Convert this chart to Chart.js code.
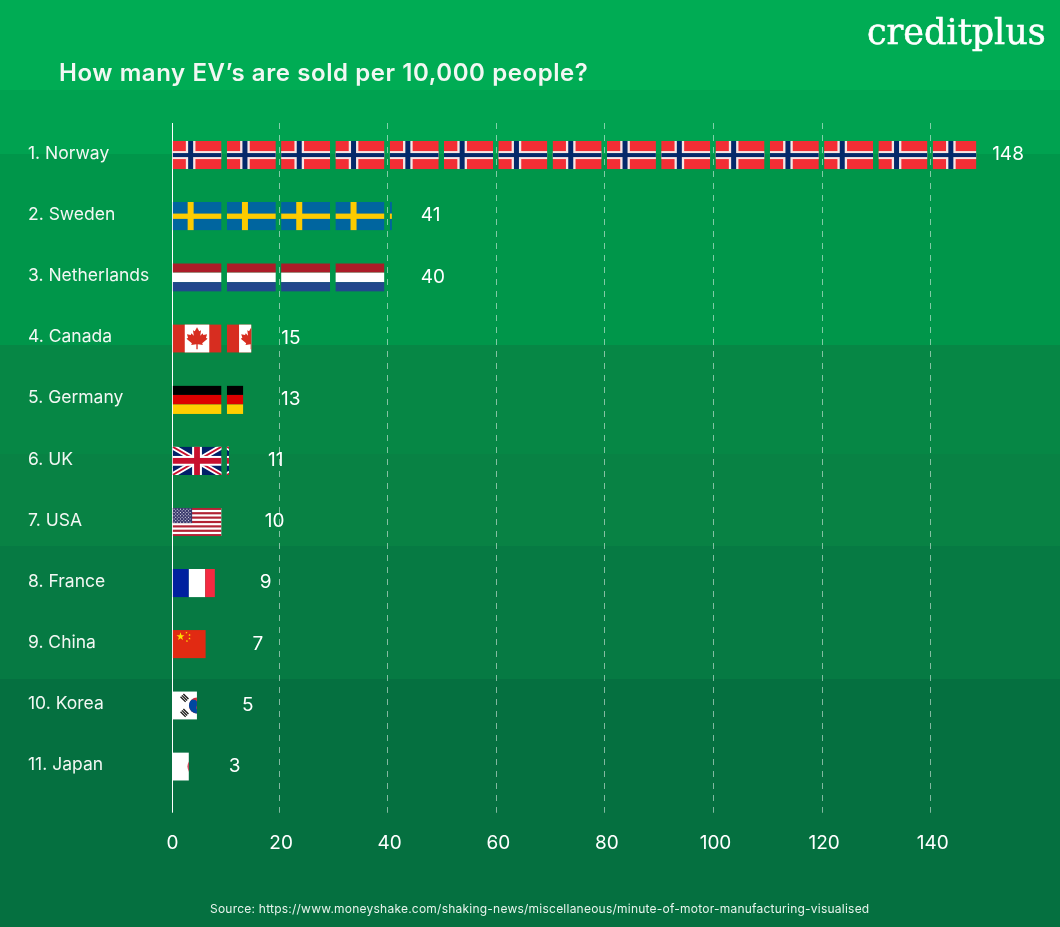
<!DOCTYPE html>
<html>
<head>
<meta charset="utf-8">
<title>EVs sold per 10,000 people</title>
<script src="https://cdn.jsdelivr.net/npm/chart.js@4"></script>
<style>
  html, body { margin: 0; padding: 0; }
  body {
    width: 1060px; height: 927px; position: relative; overflow: hidden;
    background: linear-gradient(to bottom,
      #00ac54 0, #00ac54 90px,
      #00a250 90px, #00a250 154px,
      #00964a 154px, #00964a 345px,
      #068745 345px, #068745 454px,
      #088244 454px, #088244 546px,
      #067a43 546px, #067a43 679px,
      #057040 679px, #057040 927px);
    color: #fff;
  }
  canvas { position: absolute; left: 0; top: 0; }
  .logo, .title, .source { position: absolute; white-space: nowrap; }
  .logo { left: 867px; top: 12px; font: 400 35px "DejaVu Serif", serif; -webkit-text-stroke: 0.5px #fff; }
  .title { left: 59px; top: 58px; font: 600 24px/30px Inter, sans-serif; letter-spacing: 0.58px; color: #f2f7f3; }
  .source { left: 210px; top: 901px; font: 400 12px/15px Inter, sans-serif; letter-spacing: 0.23px; color: #e8f3ec; }
</style>
</head>
<body>
<canvas id="chart" width="1060" height="927"></canvas>
<div class="logo">creditplus</div>
<div class="title">How many EV’s are sold per 10,000 people?</div>
<div class="source">Source: https://www.moneyshake.com/shaking-news/miscellaneous/minute-of-motor-manufacturing-visualised</div>

<script>
"use strict";

const countries = ["1. Norway", "2. Sweden", "3. Netherlands", "4. Canada", "5. Germany", "6. UK",
  "7. USA", "8. France", "9. China", "10. Korea", "11. Japan"];
// printed next to each bar
const soldPer10k = [148, 41, 40, 15, 13, 11, 10, 9, 7, 5, 3];
// length of the flag strip as drawn in the picture, same unit (differs a little from the printed number)
const stripLengths = [148, 40.4, 40, 14.5, 13, 10.4, 10, 7.8, 6.1, 4.5, 3];
const flagNames = ["norway", "sweden", "netherlands", "canada", "germany", "uk",
  "usa", "france", "china", "korea", "japan"];
const axisTicks = [0, 20, 40, 60, 80, 100, 120, 140];

// ─── Layout constants ─────────────────────────────────────────────────────

const FLAG_UNITS = 10;       // one flag stands for 10 units
const FLAG_FILL = 0.903;     // rest of the tile is the gap between flags
const FLAG_DROP = 1.5;       // flags sit slightly under the row centre
const GRID_SHIFT = -2.5;     // dashed lines sit left of their tick labels
const AXIS_OVERRUN = 17;     // axis and grid run on below the last row
const LABEL_GAP = [16, 29, 31, 30, 38, 39, 38, 45, 47, 45, 40];
const LABEL_FONT = '400 19px Inter, sans-serif';

// ─── Flags ────────────────────────────────────────────────────────────────

function rect(ctx, color, x, y, w, h) {
  ctx.fillStyle = color;
  ctx.fillRect(x, y, w, h);
}

// v* is the upright bar, h* the lying bar
function nordicCross(ctx, w, h, back, edge, vEdge, hEdge, cross, vCross, hCross) {
  const cx = w * 0.37;
  rect(ctx, back, 0, 0, w, h);
  if (edge) {
    rect(ctx, edge, cx - vEdge / 2, 0, vEdge, h);
    rect(ctx, edge, 0, h / 2 - hEdge / 2, w, hEdge);
  }
  rect(ctx, cross, cx - vCross / 2, 0, vCross, h);
  rect(ctx, cross, 0, h / 2 - hCross / 2, w, hCross);
}

function star(ctx, x, y, r, rot) {
  ctx.beginPath();
  for (let i = 0; i < 10; i++) {
    const a = rot - Math.PI / 2 + i * Math.PI / 5;
    const d = i % 2 ? r * 0.4 : r;
    ctx.lineTo(x + Math.cos(a) * d, y + Math.sin(a) * d);
  }
  ctx.closePath();
  ctx.fill();
}

function mapleLeaf(ctx, cx, cy, s) {
  const pts = [[0,-10],[2,-6.5],[3.6,-7.4],[2.9,-2.6],[5,-4.8],[5.6,-3.2],[9,-3.8],[8,-0.6],[9.4,0.2],
    [4.6,4.2],[5.2,5.8],[0.6,5.2],[0.6,9.5],[-0.6,9.5],[-0.6,5.2],[-5.2,5.8],[-4.6,4.2],[-9.4,0.2],
    [-8,-0.6],[-9,-3.8],[-5.6,-3.2],[-5,-4.8],[-2.9,-2.6],[-3.6,-7.4],[-2,-6.5]];
  ctx.beginPath();
  pts.forEach(([x, y]) => ctx.lineTo(cx + x * s, cy + y * s));
  ctx.closePath();
  ctx.fill();
}

function trigram(ctx, x, y, angle) {
  ctx.save();
  ctx.translate(x, y);
  ctx.rotate(angle);
  ctx.fillStyle = "#1d1d1b";
  for (let i = -1; i <= 1; i++) ctx.fillRect(-3.6, i * 2 - 0.7, 7.2, 1.4);
  ctx.restore();
}

const FLAGS = {
  norway(ctx, w, h) {
    nordicCross(ctx, w, h, "#f32e35", "#f6e7e6", 9.6, 8, "#04296a", 5, 4);
  },
  sweden(ctx, w, h) {
    nordicCross(ctx, w, h, "#00659f", null, 0, 0, "#fdcb00", 6, 5.3);
  },
  netherlands(ctx, w, h) {
    rect(ctx, "#ab1c28", 0, 0, w, h / 3);
    rect(ctx, "#ffffff", 0, h / 3, w, h / 3);
    rect(ctx, "#22478c", 0, h * 2 / 3, w, h / 3);
  },
  canada(ctx, w, h) {
    rect(ctx, "#d72d20", 0, 0, w, h);
    rect(ctx, "#ffffff", w * 0.25, 0, w * 0.5, h);
    ctx.fillStyle = "#d72d20";
    mapleLeaf(ctx, w / 2, h / 2, 1.12);
  },
  germany(ctx, w, h) {
    rect(ctx, "#000000", 0, 0, w, h / 3);
    rect(ctx, "#dd0000", 0, h / 3, w, h / 3);
    rect(ctx, "#ffce00", 0, h * 2 / 3, w, h / 3);
  },
  uk(ctx, w, h) {
    rect(ctx, "#012169", 0, 0, w, h);
    ctx.lineCap = "butt";
    ctx.beginPath();
    ctx.moveTo(0, 0); ctx.lineTo(w, h);
    ctx.moveTo(w, 0); ctx.lineTo(0, h);
    ctx.strokeStyle = "#ffffff"; ctx.lineWidth = 5.4; ctx.stroke();
    ctx.strokeStyle = "#c8102e"; ctx.lineWidth = 1.8; ctx.stroke();
    rect(ctx, "#ffffff", w / 2 - 4.9, 0, 9.8, h);
    rect(ctx, "#ffffff", 0, h / 2 - 4.9, w, 9.8);
    rect(ctx, "#c8102e", w / 2 - 2.9, 0, 5.8, h);
    rect(ctx, "#c8102e", 0, h / 2 - 2.9, w, 5.8);
  },
  usa(ctx, w, h) {
    const sh = h / 13;
    rect(ctx, "#ffffff", 0, 0, w, h);
    for (let i = 0; i < 13; i += 2) rect(ctx, "#b22234", 0, i * sh, w, sh);
    rect(ctx, "#3c3b6e", 0, 0, w * 0.4, sh * 7);
    ctx.fillStyle = "#e4e4ee";
    for (let r = 0; r < 9; r++) {
      const n = r % 2 ? 5 : 6;
      for (let c = 0; c < n; c++) {
        ctx.fillRect((r % 2 ? 3.2 : 1.6) + c * 3.2 - 0.5, 1 + r * 1.62, 1, 1);
      }
    }
  },
  france(ctx, w, h) {
    rect(ctx, "#00209f", 0, 0, w / 3, h);
    rect(ctx, "#ffffff", w / 3, 0, w / 3, h);
    rect(ctx, "#f42a41", w * 2 / 3, 0, w / 3, h);
  },
  china(ctx, w, h) {
    rect(ctx, "#e12a12", 0, 0, w, h);
    ctx.fillStyle = "#ffde00";
    star(ctx, 8, 6.5, 4.2, 0);
    star(ctx, 14, 2.6, 1.3, 0.5);
    star(ctx, 17, 5, 1.3, 0.9);
    star(ctx, 17, 8.4, 1.3, 0);
    star(ctx, 14.4, 11, 1.3, 0.5);
  },
  korea(ctx, w, h) {
    const cx = w / 2, cy = h / 2, r = 8;
    const t = Math.PI * 0.15;
    rect(ctx, "#ffffff", 0, 0, w, h);
    ctx.fillStyle = "#cd2e3a";
    ctx.beginPath(); ctx.arc(cx, cy, r, 0, Math.PI * 2); ctx.fill();
    ctx.fillStyle = "#0047a0";
    ctx.beginPath();
    ctx.arc(cx, cy, r, t, t + Math.PI);
    ctx.arc(cx - r / 2 * Math.cos(t), cy - r / 2 * Math.sin(t), r / 2, t + Math.PI, t, false);
    ctx.arc(cx + r / 2 * Math.cos(t), cy + r / 2 * Math.sin(t), r / 2, t + Math.PI, t, true);
    ctx.fill();
    trigram(ctx, 12, 6.7, Math.PI * -0.25 + Math.PI / 2);
    trigram(ctx, 12, 21.7, Math.PI * 0.25);
  },
  japan(ctx, w, h) {
    rect(ctx, "#ffffff", 0, 0, w, h);
    ctx.fillStyle = "#c9243f";
    ctx.beginPath(); ctx.arc(w / 2, h / 2, 9.5, 0, Math.PI * 2); ctx.fill();
  },
};

// ─── Plugins ──────────────────────────────────────────────────────────────

const axisLinesPlugin = {
  id: "axisLines",
  beforeDatasetsDraw(chart) {
    const { ctx, chartArea: area, scales: { x } } = chart;
    ctx.save();
    ctx.lineWidth = 1;
    ctx.strokeStyle = "rgba(255,255,255,0.5)";
    ctx.setLineDash([6, 6]);
    axisTicks.slice(1).forEach((v) => {
      const px = Math.round(x.getPixelForValue(v) + GRID_SHIFT) + 0.5;
      ctx.beginPath();
      ctx.moveTo(px, area.top);
      ctx.lineTo(px, area.bottom + AXIS_OVERRUN);
      ctx.stroke();
    });
    ctx.setLineDash([]);
    ctx.strokeStyle = "#ffffff";
    const zero = Math.floor(x.getPixelForValue(0)) + 0.5;
    ctx.beginPath();
    ctx.moveTo(zero, area.top);
    ctx.lineTo(zero, area.bottom + AXIS_OVERRUN);
    ctx.stroke();
    ctx.restore();
  },
};

const flagStripPlugin = {
  id: "flagStrip",
  afterDatasetsDraw(chart) {
    const { ctx, scales: { x } } = chart;
    const left = x.getPixelForValue(0);
    const pitch = x.getPixelForValue(FLAG_UNITS) - left;
    const w = pitch * FLAG_FILL;
    chart.getDatasetMeta(0).data.forEach((bar, i) => {
      const h = bar.height;
      const top = bar.y - h / 2 + FLAG_DROP;
      ctx.save();
      ctx.beginPath();
      ctx.rect(left, top, bar.x - left, h);
      ctx.clip();
      for (let k = 0; left + k * pitch < bar.x; k++) {
        ctx.save();
        ctx.translate(left + k * pitch, top);
        ctx.beginPath();
        ctx.rect(0, 0, w, h);
        ctx.clip();
        FLAGS[flagNames[i]](ctx, w, h);
        ctx.restore();
      }
      ctx.restore();

      ctx.fillStyle = "#ffffff";
      ctx.font = LABEL_FONT;
      ctx.textAlign = "left";
      ctx.textBaseline = "middle";
      ctx.fillText(String(soldPer10k[i]), bar.x + LABEL_GAP[i], bar.y + 1);
    });
  },
};

// ─── Chart ────────────────────────────────────────────────────────────────

new Chart(document.getElementById("chart").getContext("2d"), {
  type: "bar",
  data: {
    labels: countries,
    datasets: [{
      data: stripLengths,
      backgroundColor: "rgba(0,0,0,0)",
      barThickness: 28.5,
    }],
  },
  plugins: [axisLinesPlugin, flagStripPlugin],
  options: {
    indexAxis: "y",
    animation: false,
    responsive: false,
    devicePixelRatio: 1,
    layout: { padding: { left: 28, right: 73, top: 123, bottom: 44.5 } },
    plugins: { legend: { display: false }, tooltip: { enabled: false } },
    scales: {
      x: {
        min: 0,
        max: 150,
        afterBuildTicks(scale) { scale.ticks = axisTicks.map((value) => ({ value })); },
        grid: { display: false },
        border: { display: false },
        ticks: { color: "#ffffff", font: { family: "Inter, sans-serif", size: 19, weight: "400" }, padding: 28, maxRotation: 0, autoSkip: false },
      },
      y: {
        afterFit(scale) { scale.width = 144.5; },
        grid: { display: false },
        border: { display: false },
        ticks: { color: "#f2f7f3", crossAlign: "far", padding: 0, font: { family: "Inter, sans-serif", size: 17.5, weight: "400" }, autoSkip: false },
      },
    },
  },
});
</script>
</body>
</html>
